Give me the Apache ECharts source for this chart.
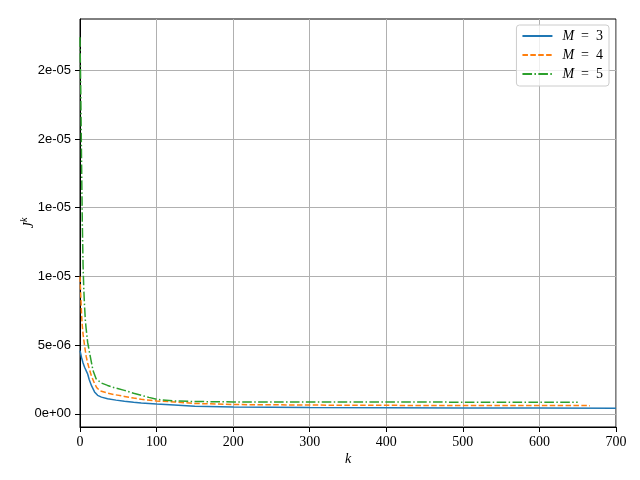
<!DOCTYPE html>
<html>
<head>
<meta charset="utf-8">
<script src="https://cdn.jsdelivr.net/npm/echarts@6/dist/echarts.min.js"></script>
<style>
  html, body { margin: 0; padding: 0; background: #fff; }
  #chart { width: 640px; height: 480px; }
</style>
</head>
<body>
<div id="chart"></div>
<script>
// series values
const seriesNames = ['M = 3', 'M = 4', 'M = 5']
const seriesColors = ['#1f77b4', '#ff7f0e', '#2ca02c']

const kM3 = [0, 2, 4, 6, 8, 10, 12, 15, 19, 23, 28, 36, 47, 58, 70, 80, 100, 123, 150, 200, 300, 400, 500, 600, 700]
const jM3 = [4.6e-6, 4.1e-6, 3.7e-6, 3.39e-6, 3.15e-6, 2.9e-6, 2.5e-6, 2.05e-6, 1.6e-6, 1.35e-6, 1.22e-6, 1.1e-6, 1.0e-6, 0.91e-6, 0.84e-6, 0.79e-6, 0.72e-6, 0.65e-6, 0.56e-6, 0.5e-6, 0.46e-6, 0.44e-6, 0.43e-6, 0.42e-6, 0.41e-6]

const kM4 = [0, 1, 2, 3, 4, 6, 8, 10, 12, 15, 19, 22, 26, 36, 45, 58, 70, 80, 100, 123, 150, 200, 300, 400, 500, 666]
const jM4 = [10.0e-6, 8.6e-6, 7.3e-6, 6.4e-6, 5.8e-6, 4.95e-6, 4.2e-6, 3.7e-6, 3.3e-6, 2.75e-6, 2.2e-6, 1.9e-6, 1.68e-6, 1.51e-6, 1.4e-6, 1.27e-6, 1.15e-6, 1.06e-6, 0.94e-6, 0.87e-6, 0.76e-6, 0.68e-6, 0.64e-6, 0.62e-6, 0.61e-6, 0.6e-6]

const kM5 = [0, 1, 2, 3, 4, 5, 6, 7, 8, 10, 13, 17, 21, 28, 36, 45, 58, 70, 80, 90, 100, 123, 150, 200, 300, 650]
const jM5 = [27.4e-6, 23.5e-6, 18.5e-6, 14.0e-6, 10.8e-6, 9.0e-6, 7.8e-6, 6.8e-6, 6.2e-6, 5.2e-6, 4.3e-6, 3.15e-6, 2.55e-6, 2.24e-6, 2.07e-6, 1.9e-6, 1.71e-6, 1.5e-6, 1.35e-6, 1.2e-6, 1.06e-6, 0.94e-6, 0.9e-6, 0.87e-6, 0.86e-6, 0.85e-6]

// tick values and their labels (as printed in the original)
const xTicks = [0, 100, 200, 300, 400, 500, 600, 700]
const yTicks = [0, 5e-6, 10e-6, 15e-6, 20e-6, 25e-6]
const yTickLabels = ['0e+00', '5e-06', '1e-05', '1e-05', '2e-05', '2e-05']

const chartInstance = echarts.init(document.getElementById('chart'))

const pairs = (ks, vs) => ks.map((k, i) => [k, vs[i]])

const lineTypes = ['solid', [5.5, 2.4], [9.6, 2.4, 1.5, 2.4]]
const allK = [kM3, kM4, kM5]
const allJ = [jM3, jM4, jM5]

const option = {
    animation: false,
    grid: {
        left: 80,
        right: 24,
        top: 19,
        bottom: 53,
        outerBoundsMode: 'none',
        show: true,
        borderColor: '#000',
        borderWidth: 1,
    },
    legend: {
        right: 31,
        top: 25,
        orient: 'vertical',
        itemWidth: 30,
        itemHeight: 14,
        itemGap: 5,
        padding: [4, 6, 5, 5],
        backgroundColor: 'rgba(255,255,255,0.8)',
        borderColor: '#cccccc',
        borderWidth: 1,
        borderRadius: 3,
        data: seriesNames,
        // hide the marker dot, keep only the line sample
        itemStyle: { opacity: 0 },
        formatter: (name) => '{m|M}' + name.slice(1).replace(/ /g, '\u2002'),
        textStyle: {
            fontFamily: 'Liberation Serif',
            fontSize: 14,
            color: '#000',
            rich: {
                m: { fontFamily: 'Liberation Serif', fontStyle: 'italic', fontSize: 14, color: '#000', padding: [0, 0, 0, 5] }
            }
        },
    },
    xAxis: {
        type: 'value',
        min: 0,
        max: 700,
        interval: 100,
        name: 'k',
        nameLocation: 'middle',
        nameGap: 25,
        nameMoveOverlap: false,
        nameTextStyle: {
            fontFamily: 'Liberation Serif',
            fontStyle: 'italic',
            fontSize: 14,
            color: '#000',
        },
        axisLine: { onZero: false, lineStyle: { color: '#000', width: 1 } },
        axisTick: { show: true, length: 5, lineStyle: { color: '#000' } },
        axisLabel: {
            margin: 8,
            fontFamily: 'Liberation Serif',
            fontSize: 14,
            color: '#000',
            formatter: (v) => xTicks.includes(v) ? String(v) : '',
        },
        splitLine: { show: true, lineStyle: { color: '#b0b0b0', width: 1 } },
    },
    yAxis: {
        type: 'value',
        min: -0.955e-6,
        max: 28.73e-6,
        splitNumber: 6,
        name: '{j|J}{k|k}',
        nameLocation: 'middle',
        nameRotate: 90,
        nameGap: 44,
        nameMoveOverlap: false,
        nameTextStyle: {
            rich: {
                j: { fontFamily: 'Liberation Serif', fontStyle: 'italic', fontSize: 14, color: '#000', verticalAlign: 'bottom' },
                k: { fontFamily: 'Liberation Serif', fontStyle: 'italic', fontSize: 10, color: '#000', verticalAlign: 'top', padding: [0, 0, 7, 0] },
            }
        },
        axisLine: { show: true, lineStyle: { color: '#000', width: 1 } },
        axisTick: { show: true, length: 5, lineStyle: { color: '#000' }, customValues: yTicks },
        axisLabel: {
            margin: 9,
            fontFamily: 'Liberation Sans',
            fontSize: 13,
            color: '#000',
            customValues: yTicks,
            formatter: (v) => {
                const i = yTicks.findIndex((t) => Math.abs(t - v) < 1e-9)
                return i >= 0 ? yTickLabels[i] : ''
            },
        },
        splitLine: { show: true, lineStyle: { color: '#b0b0b0', width: 1 } },
    },
    series: seriesNames.map((name, i) => ({
        name: name,
        type: 'line',
        data: pairs(allK[i], allJ[i]),
        symbol: 'none',
        color: seriesColors[i],
        lineStyle: { color: seriesColors[i], width: 1.5, type: lineTypes[i] },
        z: 3 + i,
    })),
}

chartInstance.setOption(option)
</script>
</body>
</html>
